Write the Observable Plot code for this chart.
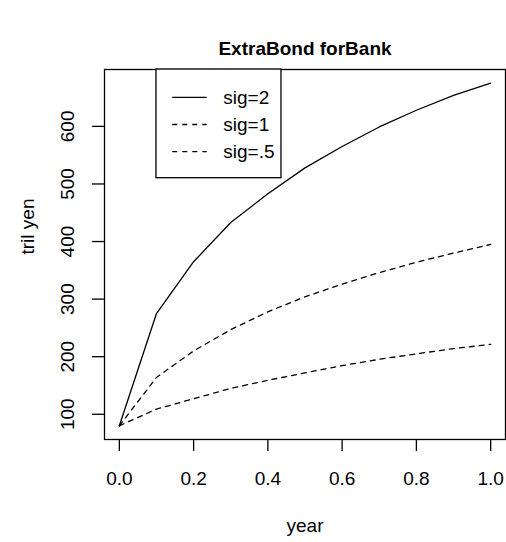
<!DOCTYPE html>
<html>
<head>
<meta charset="utf-8">
<script src="https://cdn.jsdelivr.net/npm/d3@7"></script>
<script src="https://cdn.jsdelivr.net/npm/@observablehq/plot@0.6"></script>
<style>
  html, body { margin: 0; padding: 0; background: #fff; }
  #chart svg { display: block; }
</style>
</head>
<body>
<div id="chart"></div>
<script>
// ---- data ----
const years = [0.0, 0.1, 0.2, 0.3, 0.4, 0.5, 0.6, 0.7, 0.8, 0.9, 1.0];
const sig2  = [80, 275, 365, 433, 483, 528, 565, 599, 628, 654, 675];
const sig1  = [80, 164, 210, 247, 278, 304, 326, 346, 364, 380, 395];
const sig05 = [80, 109, 127, 145, 159, 172, 184.5, 195.5, 205, 214, 221.5];
const seriesNames = ["sig=2", "sig=1", "sig=.5"];
const seriesDash = [null, "5,5", "5,5"];
const xTicks = [0.0, 0.2, 0.4, 0.6, 0.8, 1.0];
const yTicks = [100, 200, 300, 400, 500, 600];
const titleText = "ExtraBond forBank";
const xLabel = "year";
const yLabel = "tril yen";

(function () {
const seriesValues = [sig2, sig1, sig05];
const rows = [];
seriesValues.forEach((vals, s) => vals.forEach((v, i) => rows.push({series: seriesNames[s], year: years[i], value: v})));

const FONT = "'Liberation Sans', Arial, Helvetica, sans-serif";
const FS = 19;

const lineMarks = seriesNames.map((name, s) =>
  Plot.line(rows.filter(d => d.series === name), {
    x: "year", y: "value", stroke: "black", strokeWidth: 1.3,
    strokeDasharray: seriesDash[s] || undefined
  })
);

const plot = Plot.plot({
  width: 506,
  height: 542,
  marginTop: 69,
  marginBottom: 103,
  marginLeft: 104,
  marginRight: 1,
  style: { fontFamily: FONT, color: "black", background: "white" },
  x: { domain: [-0.04, 1.04] },
  y: { domain: [56.2, 698.8] },
  marks: [
    Plot.frame({ stroke: "black", strokeWidth: 1.3 }),
    Plot.axisX({ ticks: xTicks, tickSize: 12, tickPadding: 20, tickFormat: d3.format(".1f"),
                 fontSize: FS, label: null, strokeWidth: 1.3 }),
    Plot.axisY({ ticks: yTicks, tickSize: 12, text: null, label: null, strokeWidth: 1.3 }),
    Plot.text(yTicks, { y: d => d, text: d => String(d), frameAnchor: "left", dx: -37,
                        rotate: -90, textAnchor: "middle", lineAnchor: "middle", fontSize: FS }),
    ...lineMarks,
    Plot.text([titleText], { frameAnchor: "top", dy: -21, fontWeight: "bold", fontSize: 19,
                             lineAnchor: "middle" }),
    Plot.text([xLabel], { frameAnchor: "bottom", dy: 86, fontSize: FS, lineAnchor: "middle" }),
    Plot.text([yLabel], { frameAnchor: "left", dx: -77, rotate: -90, fontSize: FS, lineAnchor: "middle" })
  ]
});

// ---- legend, anchored like R's legend(0.1, 700, ...) ----
const xs = plot.scale("x"), ys = plot.scale("y");
const frameTop = 69;
const legLeft = xs.apply(0.1);
const legTop = Math.max(frameTop, ys.apply(700));
const boxW = 125, boxBottom = 177.7;
const g = d3.select(plot).append("g").attr("font-family", FONT).attr("font-size", FS)
  .attr("text-anchor", "start");
g.append("rect").attr("x", legLeft).attr("y", legTop).attr("width", boxW).attr("height", boxBottom - legTop)
  .attr("fill", "white").attr("stroke", "black").attr("stroke-width", 1.3);
seriesNames.forEach((name, i) => {
  const cy = 97.3 + i * 27.2;
  g.append("line").attr("x1", legLeft + 16.3).attr("x2", legLeft + 50.7).attr("y1", cy).attr("y2", cy)
    .attr("stroke", "black").attr("stroke-width", 1.3)
    .attr("stroke-dasharray", seriesDash[i]);
  g.append("text").attr("x", legLeft + 67.3).attr("y", cy).attr("dy", "0.35em")
    .attr("text-anchor", "start").text(name);
});

document.getElementById("chart").appendChild(plot);
})();
</script>
</body>
</html>
